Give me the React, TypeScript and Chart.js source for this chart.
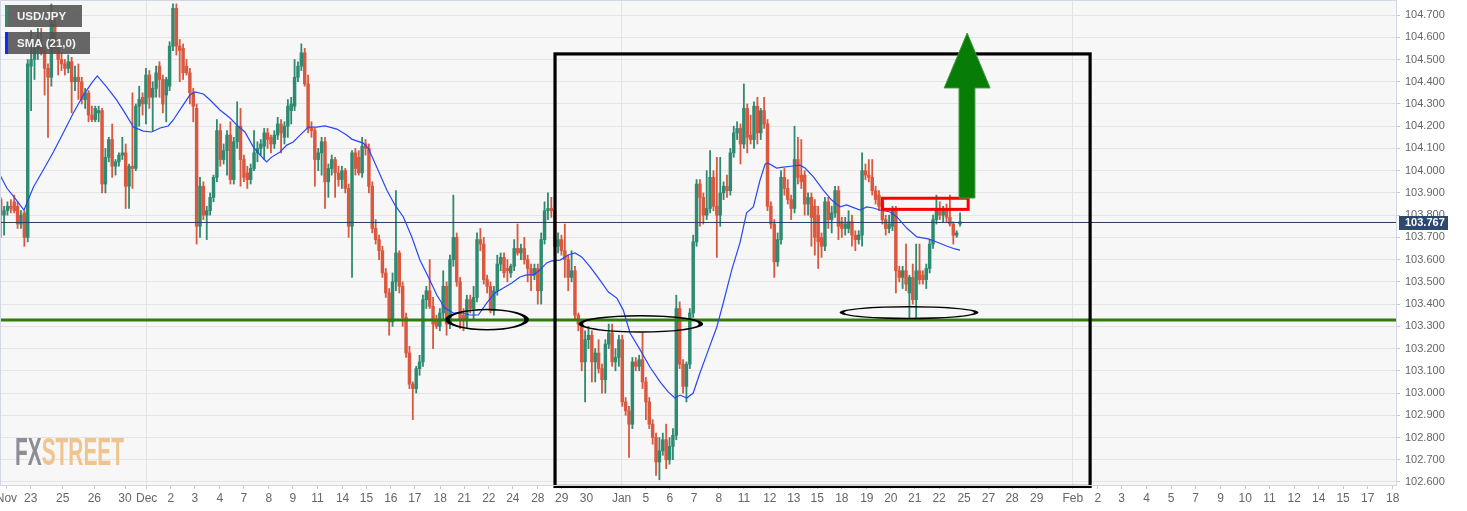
import React, { useEffect, useRef } from 'react';
import { Chart, registerables } from 'chart.js';

Chart.register(...registerables);

// ---- Data (4H candles, USD/JPY) : [open, high, low, close] ----
const ohlc: number[][] = [
  [103.87,103.88,103.70,103.80],[103.80,103.84,103.71,103.82],[103.82,103.86,103.80,103.84],[103.84,103.87,103.81,103.83],
  [103.86,103.89,103.81,103.82],[103.84,103.86,103.74,103.76],[103.76,103.82,103.74,103.80],[103.81,103.82,103.66,103.70],
  [103.70,104.50,103.68,104.48],
  [104.47,104.63,104.27,104.50],[104.50,104.58,104.41,104.55],[104.55,104.64,104.50,104.57],[104.57,104.64,104.52,104.54],
  [104.54,104.56,104.34,104.46],[104.46,104.48,104.15,104.42],[104.42,104.75,104.38,104.66],[104.66,104.69,104.53,104.55],
  [104.55,104.57,104.43,104.50],[104.50,104.53,104.45,104.48],[104.48,104.50,104.43,104.46],[104.46,104.52,104.44,104.49],
  [104.49,104.51,104.26,104.40],[104.40,104.47,104.36,104.42],[104.42,104.48,104.32,104.40],[104.40,104.42,104.30,104.32],
  [104.32,104.37,104.28,104.35],[104.35,104.36,104.22,104.25],[104.25,104.29,104.22,104.23],[104.23,104.29,104.22,104.28],
  [104.26,104.29,104.22,104.27],[104.27,104.28,103.90,103.94],[103.94,104.10,103.90,104.06],[104.06,104.15,104.04,104.14],
  [104.14,104.21,103.97,104.02],[104.02,104.05,103.98,104.04],[104.04,104.08,104.02,104.07],[104.07,104.15,104.05,104.08],
  [104.08,104.12,103.83,103.93],[103.93,104.03,103.83,104.02],[104.02,104.35,103.92,104.01],[104.01,104.30,104.00,104.29],
  [104.29,104.38,104.20,104.32],[104.33,104.35,104.25,104.30],[104.30,104.46,104.21,104.43],[104.43,104.45,104.28,104.33],
  [104.33,104.40,104.18,104.37],[104.37,104.47,104.33,104.44],[104.47,104.49,104.33,104.41],[104.41,104.43,104.26,104.30],
  [104.34,104.42,104.22,104.41],[104.38,104.58,104.36,104.56],[104.56,104.75,104.54,104.73],[104.73,104.75,104.52,104.56],
  [104.56,104.59,104.40,104.54],[104.55,104.57,104.41,104.44],[104.47,104.50,104.43,104.44],[104.44,104.46,104.30,104.35],
  [104.35,104.37,104.22,104.29],[104.28,104.30,103.67,103.75],
  [103.75,103.97,103.70,103.93],[103.93,103.95,103.78,103.80],[103.80,103.84,103.69,103.82],[103.82,103.90,103.80,103.88],
  [103.88,103.98,103.86,103.97],[103.97,104.23,103.95,104.18],[104.18,104.21,104.02,104.05],[104.05,104.12,104.03,104.09],
  [104.09,104.18,103.98,104.16],[104.16,104.22,103.94,103.96],[103.96,104.15,103.94,104.13],[104.13,104.31,104.10,104.20],
  [104.20,104.28,103.93,104.05],[104.05,104.07,103.95,103.97],[103.99,104.02,103.92,103.96],[103.96,104.03,103.94,104.01],
  [104.01,104.18,104.00,104.08],[104.08,104.13,104.04,104.10],[104.10,104.14,104.07,104.12],[104.11,104.19,104.05,104.17],
  [104.17,104.19,104.10,104.14],[104.15,104.16,104.08,104.12],[104.12,104.18,104.10,104.16],[104.16,104.24,104.14,104.21],
  [104.21,104.23,104.08,104.17],[104.15,104.22,104.12,104.20],[104.20,104.32,104.15,104.29],[104.27,104.33,104.21,104.30],
  [104.29,104.50,104.27,104.42],[104.42,104.49,104.40,104.47],
  [104.47,104.57,104.45,104.53],[104.53,104.55,104.38,104.39],[104.39,104.43,104.17,104.19],[104.19,104.22,104.15,104.18],
  [104.18,104.19,103.93,104.05],[104.05,104.10,104.00,104.08],[104.08,104.15,103.98,104.13],[104.13,104.15,103.83,103.95],
  [103.95,104.03,103.88,104.01],[104.01,104.07,103.98,104.05],[104.05,104.06,103.88,103.99],[103.99,104.02,103.93,103.96],
  [103.96,104.02,103.92,104.00],[104.00,104.01,103.90,103.92],[103.92,103.94,103.70,103.75],[103.75,104.09,103.52,104.08],
  [104.08,104.10,103.98,104.01],[104.06,104.09,103.98,103.99],[103.99,104.15,103.97,104.11],[104.12,104.14,104.07,104.10],
  [104.10,104.12,103.90,103.93],[103.93,103.95,103.72,103.74],[103.74,103.78,103.67,103.69],[103.69,103.71,103.60,103.64],
  [103.64,103.66,103.52,103.54],[103.54,103.56,103.43,103.45],[103.45,103.47,103.26,103.32],[103.32,103.54,103.30,103.50],
  [103.50,103.91,103.46,103.63],[103.63,103.64,103.45,103.48],[103.48,103.50,103.30,103.34],[103.34,103.36,103.16,103.18],
  [103.18,103.21,103.02,103.04],[103.04,103.05,102.88,103.02],[103.02,103.12,103.00,103.11],[103.11,103.17,103.08,103.14],
  [103.14,103.44,103.12,103.42],[103.42,103.48,103.38,103.46],[103.46,103.60,103.38,103.39],[103.39,103.43,103.20,103.31],
  [103.33,103.35,103.29,103.30],[103.30,103.38,103.28,103.36],[103.36,103.55,103.33,103.48],[103.48,103.50,103.26,103.31],
  [103.31,103.62,103.29,103.60],[103.60,103.89,103.57,103.70],[103.70,103.72,103.48,103.50],[103.50,103.52,103.29,103.33],
  [103.35,103.38,103.28,103.33],[103.33,103.44,103.29,103.42],[103.42,103.44,103.36,103.38],[103.38,103.48,103.33,103.43],
  [103.43,103.72,103.41,103.69],[103.69,103.74,103.64,103.67],[103.67,103.70,103.49,103.51],[103.51,103.53,103.45,103.48],
  [103.48,103.50,103.36,103.37],[103.37,103.48,103.35,103.46],[103.46,103.62,103.44,103.58],[103.58,103.63,103.55,103.61],
  [103.61,103.63,103.52,103.54],[103.56,103.60,103.50,103.55],[103.54,103.58,103.52,103.57],[103.57,103.69,103.55,103.65],
  [103.65,103.76,103.62,103.63],[103.63,103.67,103.60,103.65],[103.65,103.70,103.58,103.60],[103.60,103.62,103.50,103.56],
  [103.56,103.58,103.46,103.53],[103.53,103.58,103.51,103.56],[103.56,103.58,103.40,103.46],[103.46,103.72,103.40,103.69],
  [103.69,103.86,103.67,103.82],[103.82,103.90,103.78,103.83],
  [103.83,103.88,103.79,103.82],
  [103.82,103.84,103.62,103.66],[103.66,103.72,103.63,103.69],[103.69,103.71,103.62,103.64],[103.64,103.76,103.52,103.60],
  [103.60,103.62,103.46,103.52],[103.52,103.64,103.50,103.55],[103.55,103.57,103.33,103.35],[103.35,103.36,103.28,103.31],
  [103.31,103.33,103.10,103.14],[103.14,103.28,102.96,103.24],[103.24,103.30,103.20,103.26],[103.26,103.28,103.05,103.14],
  [103.14,103.20,103.05,103.18],[103.18,103.24,103.09,103.11],[103.11,103.13,103.00,103.06],[103.06,103.24,103.00,103.22],
  [103.22,103.31,103.20,103.27],[103.27,103.31,103.12,103.14],[103.14,103.20,103.10,103.16],[103.16,103.26,103.12,103.24],
  [103.24,103.26,102.94,102.96],[102.96,102.98,102.90,102.92],[102.92,102.94,102.71,102.86],[102.86,103.16,102.84,103.14],
  [103.14,103.16,103.10,103.12],[103.12,103.17,103.10,103.15],[103.15,103.27,103.02,103.05],[103.05,103.07,102.88,102.96],
  [102.96,102.98,102.84,102.86],[102.86,102.88,102.77,102.80],[102.80,102.82,102.63,102.69],[102.69,102.80,102.61,102.74],
  [102.74,102.82,102.72,102.79],[102.79,102.86,102.66,102.70],[102.70,102.80,102.68,102.76],[102.76,102.84,102.70,102.81],
  [102.81,103.44,102.79,103.38],[103.38,103.41,103.11,103.13],[103.13,103.15,103.00,103.03],[103.03,103.14,102.96,103.13],
  [103.13,103.38,103.11,103.36],[103.36,103.71,103.34,103.68],[103.68,103.96,103.66,103.94],
  [103.94,103.96,103.75,103.88],[103.88,103.90,103.76,103.80],[103.80,104.00,103.78,103.83],[103.83,104.09,103.81,103.97],
  [103.97,104.00,103.82,103.84],[103.84,104.06,103.61,103.80],[103.80,104.06,103.75,103.90],[103.90,103.95,103.87,103.93],
  [103.93,103.98,103.88,103.91],[103.91,104.10,103.89,104.08],[104.08,104.20,104.06,104.17],[104.17,104.22,104.14,104.19],
  [104.19,104.21,104.03,104.12],[104.12,104.39,104.10,104.28],[104.28,104.30,104.08,104.15],[104.16,104.25,104.12,104.14],
  [104.14,104.31,104.10,104.29],[104.29,104.33,104.12,104.17],[104.17,104.28,104.14,104.27],[104.27,104.33,104.19,104.21],
  [104.21,104.23,103.82,103.84],[103.84,103.86,103.74,103.76],[103.76,103.78,103.52,103.59],[103.59,103.72,103.57,103.69],
  [103.69,104.00,103.67,103.97],[103.97,104.01,103.89,103.92],[103.92,103.96,103.85,103.87],[103.87,103.89,103.78,103.83],
  [103.83,104.20,103.81,104.05],[104.05,104.15,103.94,103.97],[103.98,104.14,103.92,103.95],[103.98,104.00,103.80,103.85],
  [103.85,103.90,103.80,103.88],[103.88,103.90,103.66,103.79],[103.84,103.87,103.62,103.70],[103.80,103.84,103.56,103.68],
  [103.70,103.72,103.61,103.66],[103.66,103.88,103.64,103.86],[103.86,103.88,103.74,103.78],[103.78,103.84,103.72,103.81],
  [103.81,103.93,103.79,103.91],[103.91,103.93,103.69,103.75],[103.77,103.79,103.70,103.74],[103.74,103.79,103.71,103.76],
  [103.74,103.82,103.72,103.77],[103.77,103.80,103.66,103.71],[103.71,103.73,103.64,103.69],[103.69,103.73,103.67,103.71],
  [103.71,104.08,103.66,104.00],[104.00,104.03,103.96,103.98],[103.98,104.05,103.95,103.97],[103.97,104.05,103.89,103.91],
  [103.91,103.93,103.85,103.87],[103.89,103.91,103.82,103.84],[103.86,103.88,103.76,103.78],[103.78,103.80,103.71,103.74],
  [103.74,103.80,103.72,103.76],[103.75,103.84,103.73,103.83],[103.83,103.84,103.45,103.55],[103.55,103.57,103.50,103.52],
  [103.52,103.57,103.47,103.55],[103.55,103.67,103.46,103.49],[103.45,103.53,103.33,103.52],[103.52,103.58,103.40,103.42],
  [103.42,103.67,103.34,103.55],[103.55,103.67,103.49,103.51],[103.53,103.55,103.49,103.51],[103.51,103.58,103.47,103.56],
  [103.56,103.69,103.54,103.67],[103.67,103.80,103.65,103.78],[103.78,103.89,103.76,103.83],[103.83,103.86,103.78,103.80],
  [103.80,103.84,103.77,103.83],[103.83,103.85,103.77,103.79],[103.79,103.89,103.75,103.76],[103.76,103.77,103.67,103.71],
  [103.71,103.73,103.70,103.72],[103.76,103.81,103.75,103.77],
];

// SMA (21): [candle index, price]
const smaPoints: number[][] = [
  [-0.2,103.980],[1.8,103.922],[4.2,103.877],[6.9,103.823],[9.7,103.927],[12.6,104.003],[15.6,104.084],[18.5,104.169],
  [21.5,104.259],[24.5,104.340],[26.9,104.394],[28.6,104.426],[31.4,104.376],[34.3,104.318],[36.8,104.259],[39.3,104.196],
  [42.2,104.178],[44.7,104.174],[47.2,104.192],[49.6,104.201],[51.1,104.228],[53.6,104.286],[56.0,104.340],[57.5,104.354],
  [60.0,104.345],[62.0,104.318],[64.9,104.273],[67.9,104.237],[69.9,104.205],[72.3,104.174],[74.8,104.106],[76.8,104.070],
  [78.7,104.039],[80.2,104.061],[82.7,104.084],[84.7,104.115],[86.6,104.129],[88.6,104.160],[91.1,104.196],[93.5,104.196],
  [96.0,104.201],[99.5,104.187],[102.4,104.160],[103.9,104.142],[107.3,104.124],[108.8,104.102],[111.3,104.017],[114.3,103.913],
  [116.7,103.846],[119.2,103.792],[121.7,103.702],[124.1,103.598],[126.6,103.522],[129.1,103.441],[131.5,103.382],[134.0,103.360],
  [136.5,103.360],[138.9,103.351],[141.4,103.351],[143.9,103.405],[146.3,103.450],[148.8,103.472],[151.3,103.495],[153.7,103.522],
  [155.7,103.531],[157.7,103.531],[159.6,103.553],[161.6,103.585],[163.1,103.594],[165.6,103.598],[168.0,103.621],[170.0,103.630],
  [172.0,103.612],[174.5,103.567],[177.4,103.508],[179.9,103.454],[182.4,103.427],[184.3,103.373],[186.3,103.270],[189.3,103.194],
  [192.2,103.117],[195.2,103.050],[197.6,103.005],[199.6,102.978],[201.1,102.991],[203.1,102.978],[205.0,103.000],[207.0,103.090],
  [209.5,103.194],[212.0,103.297],[213.9,103.405],[216.4,103.553],[218.9,103.679],[220.8,103.810],[222.8,103.837],[224.8,103.958],
  [226.3,104.030],[227.2,104.034],[229.7,104.012],[231.7,104.016],[234.6,104.021],[236.6,104.025],[238.1,104.012],[240.6,103.972],
  [243.5,103.913],[246.0,103.868],[248.5,103.837],[250.4,103.846],[251.9,103.837],[254.4,103.823],[256.4,103.837],[258.3,103.832],
  [260.3,103.823],[263.3,103.814],[265.3,103.792],[268.2,103.742],[271.2,103.702],[274.6,103.693],[277.1,103.679],[280.0,103.661],
  [282.5,103.648],[284.0,103.643],
];

const xTickLabels = ['Nov','23','25','26','30','Dec','2','3','4','7','8','9','11','14','15','16','17','18','21','22','24','28','29','30',
  'Jan','5','6','7','8','11','12','13','15','18','19','20','21','22','25','27','28','29',
  'Feb','2','3','4','5','7','9','10','11','12','14','15','17','18'];
const xTickIdx = [1.7,8.88,18.35,27.71,36.8,43.22,50.36,57.46,64.86,72.0,79.4,86.5,93.8,101.2,108.3,115.5,122.6,130.1,137.2,144.5,151.6,159.0,166.1,173.4,
  183.8,191.0,198.1,205.3,212.6,220.0,227.7,234.8,241.7,249.0,256.4,263.5,270.6,277.8,285.2,292.4,299.4,306.7,
  317.4,324.8,331.8,339.2,346.5,353.7,361.1,368.4,375.6,382.9,390.2,397.4,404.7,412.1];
const yTickValues = [102.6,102.7,102.8,102.9,103.0,103.1,103.2,103.3,103.4,103.5,103.6,103.7,103.8,103.9,104.0,104.1,104.2,104.3,104.4,104.5,104.6,104.7];
const monthGrid = ['Dec','Jan','Feb'];

const lastPrice = 103.767;
const supportLevel = 103.328;
const X_MIN = -0.207, X_MAX = 413.055, Y_MIN = 102.5865, Y_MAX = 104.763;

// annotations (data units)
const focusBox = { x0: 164.1, x1: 322.5, top: 104.525, bottom: 102.58 };
const resistBox = { x0: 261.0, x1: 286.4, top: 103.876, bottom: 103.826 };
const upArrow = { sx0: 283.7, sx1: 288.4, base: 103.877, headBase: 104.372, hx0: 279.3, hx1: 292.9, tipX: 286.1, tipY: 104.619 };
const ellipses = [
  { cx: 144.0, rx: 11.93, cy: 103.330, ry: 0.0436 },
  { cx: 189.5, rx: 18.0, cy: 103.311, ry: 0.0351 },
  { cx: 268.9, rx: 20.1, cy: 103.362, ry: 0.0247 },
];

const UP = '#2e8a70';
const DOWN = '#d9583f';

const overlay = {
  id: 'overlay',
  beforeDraw(chart: any) {
    const { ctx, chartArea: a } = chart;
    ctx.save();
    ctx.fillStyle = '#ffffff';
    ctx.fillRect(0, 0, chart.width, chart.height);
    ctx.fillStyle = '#f7f7f7';
    ctx.fillRect(a.left, a.top, a.right - a.left, a.bottom - a.top);
    ctx.restore();
  },
  beforeDatasetsDraw(chart: any) {
    const { ctx } = chart;
    ctx.save();
    ctx.font = 'bold 38px "Liberation Sans Narrow", "Liberation Sans", Arial';
    ctx.textBaseline = 'alphabetic';
    const w1 = ctx.measureText('FX').width;
    const w2 = ctx.measureText('STREET').width;
    const sx = 109 / (w1 + w2);
    ctx.translate(15, 465);
    ctx.scale(sx, 1);
    ctx.fillStyle = '#8d8d95';
    ctx.fillText('FX', 0, 0);
    ctx.fillStyle = '#f0c48f';
    ctx.fillText('STREET', w1, 0);
    ctx.restore();
  },
  afterDatasetsDraw(chart: any) {
    const { ctx } = chart;
    const xs = chart.scales.x, ys = chart.scales.y;
    const px = (v: number) => xs.getPixelForValue(v);
    const py = (v: number) => ys.getPixelForValue(v);
    ctx.save();
    // focus rectangle
    ctx.strokeStyle = '#000';
    ctx.lineWidth = 3.2;
    ctx.strokeRect(px(focusBox.x0), py(focusBox.top), px(focusBox.x1) - px(focusBox.x0), py(focusBox.bottom) - py(focusBox.top));
    // resistance box
    ctx.strokeStyle = '#ff0000';
    ctx.lineWidth = 3;
    ctx.strokeRect(px(resistBox.x0), py(resistBox.top), px(resistBox.x1) - px(resistBox.x0), py(resistBox.bottom) - py(resistBox.top));
    // ellipses
    ctx.fillStyle = '#000';
    ellipses.forEach((e) => {
      const cx = px(e.cx), cy = py(e.cy);
      const rx = Math.abs(px(e.cx + e.rx) - cx), ry = Math.abs(py(e.cy + e.ry) - cy);
      ctx.beginPath();
      ctx.moveTo(cx + rx + 1.5, cy);
      ctx.ellipse(cx, cy, rx + 1.5, ry + 1.1, 0, 0, Math.PI * 2);
      ctx.moveTo(cx + rx - 3, cy);
      ctx.ellipse(cx, cy, rx - 3, Math.max(ry - 0.4, 0.5), 0, 0, Math.PI * 2);
      ctx.fill('evenodd');
    });
    // up arrow
    ctx.beginPath();
    ctx.moveTo(px(upArrow.sx0), py(upArrow.base));
    ctx.lineTo(px(upArrow.sx0), py(upArrow.headBase));
    ctx.lineTo(px(upArrow.hx0), py(upArrow.headBase));
    ctx.lineTo(px(upArrow.tipX), py(upArrow.tipY));
    ctx.lineTo(px(upArrow.hx1), py(upArrow.headBase));
    ctx.lineTo(px(upArrow.sx1), py(upArrow.headBase));
    ctx.lineTo(px(upArrow.sx1), py(upArrow.base));
    ctx.closePath();
    ctx.fillStyle = '#077c07';
    ctx.fill();
    ctx.strokeStyle = '#3b9a3b';
    ctx.lineWidth = 1;
    ctx.stroke();
    ctx.restore();
  },
  afterDraw(chart: any) {
    const { ctx, chartArea: a } = chart;
    const ys = chart.scales.y;
    ctx.save();
    // frame
    ctx.strokeStyle = '#d2d7e6';
    ctx.lineWidth = 1;
    ctx.strokeRect(a.left + 0.5, a.top - 0.5, a.right - a.left, a.bottom - a.top + 1);
    // price tag
    const y = ys.getPixelForValue(lastPrice);
    ctx.fillStyle = '#2b4a6e';
    ctx.fillRect(a.right + 3, y - 6.5, 49, 14);
    ctx.fillStyle = '#ffffff';
    ctx.font = 'bold 11px "Liberation Sans", Arial';
    ctx.textBaseline = 'middle';
    ctx.textAlign = 'left';
    ctx.fillText(lastPrice.toFixed(3), a.right + 9, y + 0.5);
    // legend boxes
    ctx.fillStyle = 'rgba(82,82,82,0.88)';
    ctx.fillRect(5, 5, 77, 22);
    ctx.fillRect(5, 32, 85, 22);
    ctx.fillStyle = '#2e8a70';
    ctx.fillRect(5, 5, 3, 22);
    ctx.fillStyle = '#0a2cff';
    ctx.fillRect(5, 32, 3, 22);
    ctx.fillStyle = '#f2f2f2';
    ctx.font = 'bold 11.5px "Liberation Sans", Arial';
    ctx.fillText('USD/JPY', 17, 16.5);
    ctx.fillText('SMA (21,0)', 17, 43.5);
    ctx.restore();
  },
};

export default function App() {
  const ref = useRef<HTMLCanvasElement | null>(null);
  useEffect(() => {
    document.body.style.margin = '0';
    if (!ref.current) return;
    const colors = ohlc.map((c) => (c[3] >= c[0] ? UP : DOWN));
    const chart = new Chart(ref.current, {
      type: 'bar',
      data: {
        datasets: [
          {
            type: 'line',
            data: smaPoints.map((p) => ({ x: p[0], y: p[1] })),
            borderColor: '#2747f5',
            borderWidth: 1.2,
            pointRadius: 0,
            tension: 0,
            order: 1,
          } as any,
          {
            type: 'line',
            data: [{ x: X_MIN, y: lastPrice }, { x: X_MAX, y: lastPrice }],
            borderColor: '#2b3d5c',
            borderWidth: 1,
            pointRadius: 0,
            order: 2,
          } as any,
          {
            type: 'line',
            data: [{ x: X_MIN, y: supportLevel }, { x: X_MAX, y: supportLevel }],
            borderColor: '#2e7c0c',
            borderWidth: 3,
            pointRadius: 0,
            order: 3,
          } as any,
          {
            type: 'bar',
            data: ohlc.map((c, i) => ({ x: i, y: [c[0], c[3]] })),
            backgroundColor: colors,
            barThickness: 2.8,
            minBarLength: 1,
            grouped: false,
            order: 4,
          } as any,
          {
            type: 'bar',
            data: ohlc.map((c, i) => ({ x: i, y: [c[2], c[1]] })),
            backgroundColor: colors,
            barThickness: 1.15,
            grouped: false,
            order: 5,
          } as any,
        ],
      },
      options: {
        responsive: false,
        animation: false,
        devicePixelRatio: 1,
        layout: { padding: { top: 1, left: 0, right: 0, bottom: 0 } },
        plugins: { legend: { display: false }, tooltip: { enabled: false } },
        scales: {
          x: {
            type: 'linear',
            min: X_MIN,
            max: X_MAX,
            offset: false,
            position: 'bottom',
            afterBuildTicks: (s: any) => {
              s.ticks = xTickIdx.map((v) => ({ value: v }));
            },
            afterFit: (s: any) => {
              s.height = 26;
              s.paddingLeft = 0;
              s.paddingRight = 0;
            },
            ticks: {
              autoSkip: false,
              maxRotation: 0,
              minRotation: 0,
              padding: 2,
              color: '#666',
              font: { family: '"Liberation Sans Narrow", "Liberation Sans", Arial', size: 12 },
              callback: (_v: any, i: number) => xTickLabels[i],
            },
            grid: {
              offset: false,
              color: (c: any) => (monthGrid.includes(xTickLabels[c.index]) ? '#e3e3e3' : 'rgba(0,0,0,0)'),
              tickColor: '#c8c8c8',
              tickLength: 4,
            },
            border: { display: false },
          },
          y: {
            type: 'linear',
            position: 'right',
            min: Y_MIN,
            max: Y_MAX,
            afterBuildTicks: (s: any) => {
              s.ticks = yTickValues.map((v) => ({ value: v }));
            },
            afterFit: (s: any) => {
              s.width = 71;
              s.paddingTop = 0;
              s.paddingBottom = 0;
            },
            ticks: {
              padding: 5,
              color: '#666',
              font: { family: '"Liberation Sans", Arial', size: 11 },
              callback: (v: any) => Number(v).toFixed(3),
            },
            grid: { color: '#e4e4e4', tickColor: '#c8c8c8', tickLength: 4 },
            border: { display: false },
          },
        },
      } as any,
      plugins: [overlay],
    });
    return () => chart.destroy();
  }, []);
  return (
    <div style={{ width: 1467, height: 511 }}>
      <canvas ref={ref} width={1467} height={511} style={{ display: 'block' }} />
    </div>
  );
}
